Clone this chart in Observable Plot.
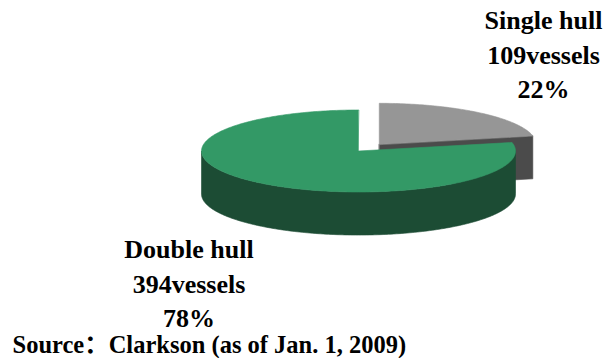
<!DOCTYPE html>
<html lang="zh-Hans">
<head>
<meta charset="utf-8">
<script src="https://cdn.jsdelivr.net/npm/d3@7"></script>
<script src="https://cdn.jsdelivr.net/npm/@observablehq/plot@0.6"></script>
<style>
  body { margin: 0; background: #fff; }
</style>
</head>
<body>
<div id="chart"></div>
<script>
// Tanker fleet by hull type
const hulls = ["Single hull", "Double hull"];
const vessels = [109, 394];
const topColors = ["#969696", "#339966"];
const sideColors = ["#4b4b4b", "#1c4c34"];
const source = "Source：Clarkson (as of Jan. 1, 2009)";

const total = d3.sum(vessels);
const TAU = 2 * Math.PI;
const depth = 1.05;          // slab thickness, in units of the vertical radius
const explode = [0.21, 0];   // how far each slice is pulled out from the centre

// Angles run clockwise from twelve o'clock; u = sin, v = cos (v > 0 is the back)
let acc = 0;
const slices = hulls.map((name, i) => {
  const a0 = acc, a1 = acc + vessels[i] / total * TAU;
  acc = a1;
  const mid = (a0 + a1) / 2;
  return {
    name, value: vessels[i], pct: Math.round(vessels[i] / total * 100),
    a0, a1, ox: explode[i] * Math.sin(mid), oy: explode[i] * Math.cos(mid),
    top: topColors[i], side: sideColors[i]
  };
});

const pt = (s, a, h, r = 1) => ({x: s.ox + r * Math.sin(a), y: s.oy + r * Math.cos(a) - h * depth});
function arc(s, from, to, h) {
  const n = Math.max(2, Math.ceil(Math.abs(to - from) / (Math.PI / 180)) + 1);
  return d3.range(n).map(k => pt(s, from + (to - from) * k / (n - 1), h));
}

// Build the visible faces of each slice, back slice first
const faces = [];
for (const s of slices) {
  // radial cut faces that turn toward the viewer
  for (const [a, normal] of [[s.a0, s.a0 - Math.PI / 2], [s.a1, s.a1 + Math.PI / 2]]) {
    if (Math.cos(normal) < -1e-6) {
      faces.push({color: s.side, points: [pt(s, 0, 0, 0), pt(s, a, 0), pt(s, a, 1), pt(s, 0, 1, 0)]});
    }
  }
  // outer wall on the front half
  const w0 = Math.max(s.a0, Math.PI / 2), w1 = Math.min(s.a1, 3 * Math.PI / 2);
  if (w1 > w0) {
    faces.push({color: s.side, points: [...arc(s, w0, w1, 0), ...arc(s, w1, w0, 1)]});
  }
  // top face
  faces.push({color: s.top, points: [pt(s, 0, 0, 0), ...arc(s, s.a0, s.a1, 0)]});
}

const font = {fontFamily: "'Liberation Serif', 'Noto Sans CJK SC', serif", fontWeight: "bold"};
const labelText = s => `${s.name}\n${s.value}vessels\n${s.pct}%`;
const labelPos = {"Single hull": [543, 4.8], "Double hull": [188.5, 233.8]};

const chart = Plot.plot({
  width: 605,
  height: 358,
  margin: 0,
  x: {domain: [-1, 1], range: [201, 515], axis: null},
  y: {domain: [-1, 1], range: [191.5, 109.5], axis: null},
  marks: [
    ...faces.map(f => Plot.line(f.points, {
      x: "x", y: "y", curve: "linear-closed",
      fill: f.color, stroke: f.color, strokeWidth: 0.6
    })),
    ...slices.map(s => Plot.text([s], {
      text: labelText, frameAnchor: "top-left",
      dx: labelPos[s.name][0], dy: labelPos[s.name][1],
      textAnchor: "middle", lineAnchor: "top", lineHeight: 1.31,
      fontSize: 26, fill: "#000", ...font
    })),
    Plot.text([source], {
      text: d => d, frameAnchor: "top-left", dx: 12, dy: 334.6,
      textAnchor: "start", lineAnchor: "top", fontSize: 24.5, fill: "#000", ...font
    })
  ]
});

document.getElementById("chart").appendChild(chart);
</script>
</body>
</html>
